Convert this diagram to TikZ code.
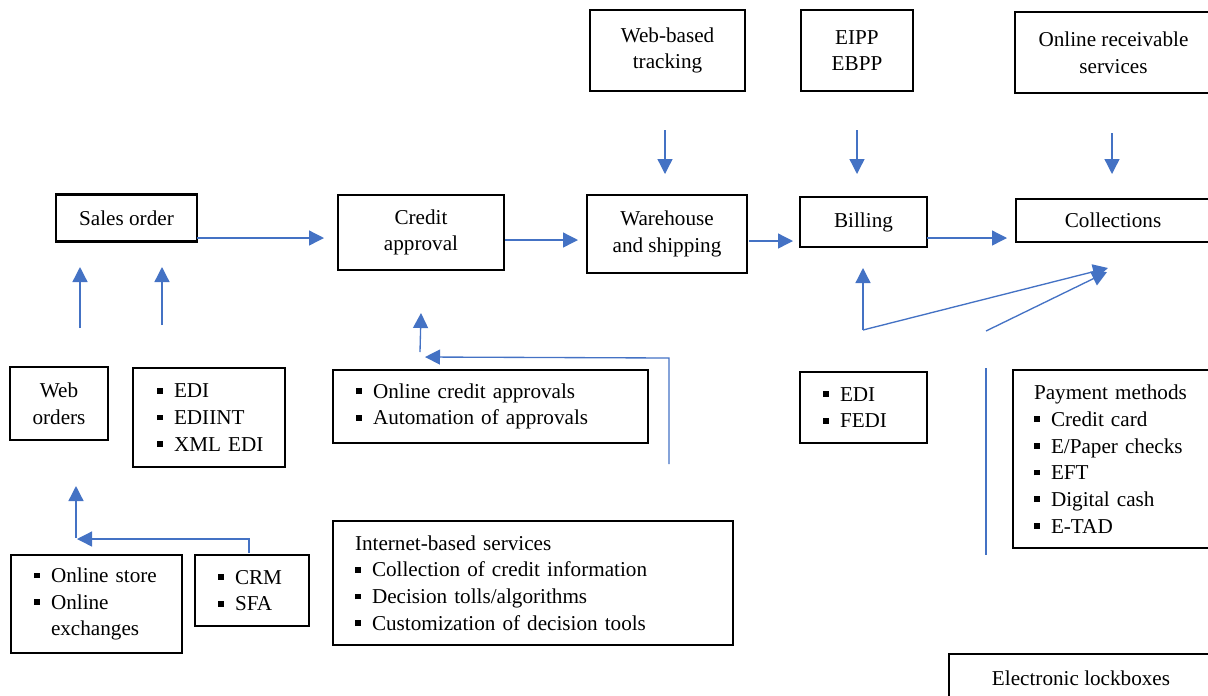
\documentclass[tikz,border=0pt]{standalone}
\usepackage{fontspec}
\setmainfont{Liberation Serif}
\usetikzlibrary{arrows.meta}
\definecolor{flowblue}{RGB}{68,114,196}
\newcommand{\itm}[1]{\mbox{\rule[0.2em]{3.4pt}{3.4pt}\hspace{6.8pt}#1}}
\begin{document}
\begin{tikzpicture}[x=0.6pt, y=-0.6pt,
  box/.style={draw, line width=1.3pt, inner sep=0pt, align=center, font=\fontsize{12.7}{16}\selectfont},
  lst/.style={box, align=left},
  flow/.style={flowblue, line width=0.8pt, -{Triangle[length=9pt, width=9pt]}},
  link/.style={flowblue, line width=0.8pt}]
\clip (0,0) rectangle (1208,695);
\node[box, minimum width=84.6pt, minimum height=28.2pt] (sales) at (126.5,218){Sales order};
\node[box, minimum width=99.6pt, minimum height=45pt] (credit) at (421,232.5){Credit\\approval};
\node[box, minimum width=96pt, minimum height=46.8pt] (whouse) at (667,234){Warehouse\\and shipping};
\node[box, minimum width=76.2pt, minimum height=30pt] (billing) at (863.5,222){Billing};
\node[box, minimum width=116.4pt, minimum height=25.8pt] (collect) at (1113,220.5){Collections};
\node[box, minimum width=93pt, minimum height=48.6pt] (webtrack) at (667.5,50.5){Web-based\\tracking};
\node[box, minimum width=67.2pt, minimum height=48.6pt] (eipp) at (857,50.5){EIPP\\EBPP};
\node[box, minimum width=118.2pt, minimum height=48.6pt] (onlinerec) at (1113.5,52.5){Online receivable\\services};
\node[box, minimum width=58.8pt, minimum height=43.8pt] (weborders) at (59,403.5){Web\\orders};
\node[lst, text width=62.4pt, minimum width=91.2pt, minimum height=59.4pt] (edilist) at (209,417.5){\itm{EDI}\\\itm{EDIINT}\\\itm{XML EDI}};
\node[lst, text width=161.4pt, minimum width=189pt, minimum height=43.8pt] (onlinecredit) at (490.5,406.5){\itm{Online credit approvals}\\\itm{Automation of approvals}};
\node[lst, text width=213.6pt, minimum width=240pt, minimum height=74.4pt] (internet) at (533,583){Internet-based services\\\itm{Collection of credit information}\\\itm{Decision tolls/algorithms}\\\itm{Customization of decision tools}};
\node[lst, text width=75pt, minimum width=102.6pt, minimum height=58.8pt] (store) at (96.5,604){\itm{Online store}\\\itm{Online}\\\hspace*{10.2pt}exchanges};
\node[lst, text width=40.8pt, minimum width=68.4pt, minimum height=42.6pt] (crm) at (252,590.5){\itm{CRM}\\\itm{SFA}};
\node[lst, text width=48.6pt, minimum width=76.2pt, minimum height=42.6pt] (billedi) at (863.5,407.5){\itm{EDI}\\\itm{FEDI}};
\node[lst, text width=93pt, minimum width=118.2pt, minimum height=106.8pt] (payment) at (1111.5,459){Payment methods\\\itm{Credit card}\\\itm{E/Paper checks}\\\itm{EFT}\\\itm{Digital cash}\\\itm{E-TAD}};
\node[box, minimum width=158.4pt, minimum height=28.8pt] (lockbox) at (1081,678){Electronic lockboxes};
\coordinate (salesout) at (197,238);
\coordinate (creditin) at (324,238);
\coordinate (creditout) at (505,240);
\coordinate (whousein) at (578,240);
\coordinate (whouseout) at (749,241);
\coordinate (billingin) at (793,241);
\coordinate (billingout) at (927,238);
\coordinate (collectin) at (1007,238);
\coordinate (trackout) at (665,130);
\coordinate (trackin) at (665,174);
\coordinate (eippout) at (857,130);
\coordinate (eippin) at (857,174);
\coordinate (recout) at (1112,133);
\coordinate (recin) at (1112,174);
\coordinate (webout) at (80,328);
\coordinate (webin) at (80,267);
\coordinate (ediout) at (162,325);
\coordinate (ediin) at (162,267);
\coordinate (crmout) at (249,553);
\coordinate (crmbend) at (249,539);
\coordinate (crmin) at (77,539);
\coordinate (storeout) at (76,538);
\coordinate (storein) at (76,486);
\coordinate (ocout) at (669,464);
\coordinate (ocbend) at (669,358);
\coordinate (ocin) at (425,357);
\coordinate (approvout) at (420,352);
\coordinate (approvin) at (421,313);
\coordinate (fediout) at (863,330);
\coordinate (fediin) at (863,268);
\coordinate (payout) at (986,331);
\coordinate (collectup) at (1108,268);
\coordinate (collectlow) at (1107,272);
\coordinate (paytop) at (986,368);
\coordinate (paybot) at (986,555);
\draw[flow](salesout) -- (creditin);
\draw[flow](creditout) -- (whousein);
\draw[flow](whouseout) -- (billingin);
\draw[flow](billingout) -- (collectin);
\draw[flow](trackout) -- (trackin);
\draw[flow](eippout) -- (eippin);
\draw[flow](recout) -- (recin);
\draw[flow](webout) -- (webin);
\draw[flow](ediout) -- (ediin);
\draw[flow](crmout) -- (crmbend) -- (crmin);
\draw[flow](storeout) -- (storein);
\draw[flow](ocout) -- (ocbend) -- (ocin);
\draw[flow](approvout) -- (approvin);
\draw[flow](fediout) -- (fediin);
\draw[flow](fediout) -- (collectup);
\draw[flow](payout) -- (collectlow);
\draw[link](paytop) -- (paybot);
\end{tikzpicture}
\end{document}
